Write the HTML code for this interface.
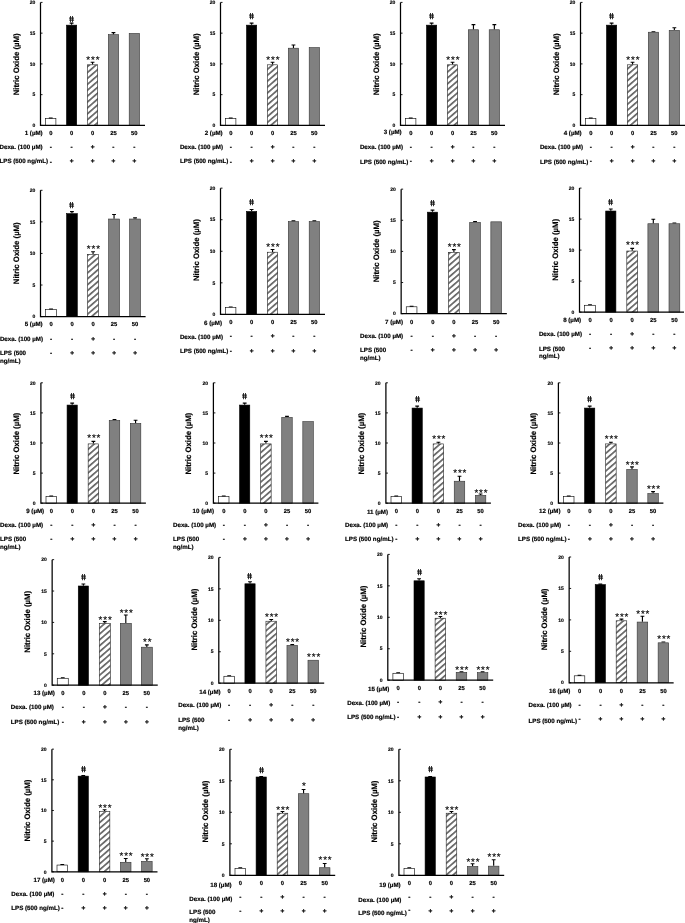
<!DOCTYPE html>
<html><head><meta charset="utf-8"><title>Nitric Oxide</title>
<style>html,body{margin:0;padding:0;background:#fff}svg{display:block;text-rendering:geometricPrecision}.t{stroke:#000;stroke-width:.18px}.k{stroke:#000;stroke-width:.15px}.h{stroke:#000;stroke-width:.3px}.s{stroke:#000;stroke-width:.15px}.m{stroke:#000;stroke-width:.28px}</style></head>
<body>
<svg width="685" height="923" viewBox="0 0 685 923" font-family="Liberation Sans, sans-serif" font-weight="bold" fill="#000">
<defs><pattern id="h" width="4.45" height="4.45" patternUnits="userSpaceOnUse" patternTransform="rotate(-41)"><rect width="4.45" height="4.45" fill="#fff"/><rect y="0" width="4.45" height="1.7" fill="#666"/></pattern></defs>
<g id="p1">
<path d="M50.75 118.33V118.02M48.85 118.17H52.65" stroke="#000" stroke-width="1.15" fill="none"/>
<rect x="45.6" y="118.63" width="10.3" height="6.77" fill="#fff" stroke="#000" stroke-width="0.6"/>
<path d="M71.6 24.85V23M69.7 23.15H73.5" stroke="#000" stroke-width="1.15" fill="none"/>
<rect x="66.5" y="25.15" width="10.2" height="100.25" fill="#000" stroke="#000" stroke-width="0.6"/>
<text x="0" y="0" font-size="8.7" font-weight="normal" text-anchor="middle" class="h" transform="translate(72.05 21.85) skewX(11)">#</text>
<path d="M92.55 64.52V62.05M90.65 62.2H94.45" stroke="#000" stroke-width="1.15" fill="none"/>
<rect x="87.4" y="64.81" width="10.3" height="60.59" fill="url(#h)" stroke="#222" stroke-width="0.6"/>
<text x="93.37" y="62.96" font-size="9.8" text-anchor="middle" letter-spacing="0.85" font-weight="normal" class="s">***</text>
<path d="M113.45 34.38V32.53M111.55 32.68H115.35" stroke="#000" stroke-width="1.15" fill="none"/>
<rect x="108.3" y="34.68" width="10.3" height="90.72" fill="#808080" stroke="#333" stroke-width="0.6"/>
<rect x="129.2" y="33.45" width="10.3" height="91.95" fill="#808080" stroke="#333" stroke-width="0.6"/>
<path d="M40.5 2.4V125.4H145" stroke="#000" stroke-width="1.25" fill="none"/>
<path d="M40.5 125.4h2" stroke="#000" stroke-width="0.9"/>
<text x="35.2" y="127.1" font-size="5.0" text-anchor="end" class="k">0</text>
<path d="M40.5 94.65h2" stroke="#000" stroke-width="0.9"/>
<text x="35.2" y="96.35" font-size="5.0" text-anchor="end" class="k">5</text>
<path d="M40.5 63.9h2" stroke="#000" stroke-width="0.9"/>
<text x="35.2" y="65.6" font-size="5.0" text-anchor="end" class="k">10</text>
<path d="M40.5 33.15h2" stroke="#000" stroke-width="0.9"/>
<text x="35.2" y="34.85" font-size="5.0" text-anchor="end" class="k">15</text>
<path d="M40.5 2.4h2" stroke="#000" stroke-width="0.9"/>
<text x="35.2" y="4.1" font-size="5.0" text-anchor="end" class="k">20</text>
<text transform="translate(18.5 64.35) rotate(-90)" font-size="7.9" text-anchor="middle" textLength="61.8" lengthAdjust="spacingAndGlyphs" class="t">Nitric Oxide (µM)</text>
<text x="42.7" y="135.3" font-size="6.2" text-anchor="end" class="t">1 (µM)</text>
<text x="-0.5" y="149.15" font-size="6.2" class="t">Dexa. (100 µM)</text>
<text x="-0.5" y="162.95" font-size="6.2" class="t">LPS (500 ng/mL)</text>
<text x="50.75" y="135.2" font-size="5.8" text-anchor="middle" class="t">0</text>
<text x="71.65" y="135.2" font-size="5.8" text-anchor="middle" class="t">0</text>
<text x="92.55" y="135.2" font-size="5.8" text-anchor="middle" class="t">0</text>
<text x="113.45" y="135.2" font-size="5.8" text-anchor="middle" class="t">25</text>
<text x="134.35" y="135.2" font-size="5.8" text-anchor="middle" class="t">50</text>
<text x="50.75" y="148.9" font-size="6.5" text-anchor="middle" class="t">-</text>
<text x="71.65" y="148.9" font-size="6.5" text-anchor="middle" class="t">-</text>
<text x="92.55" y="148.9" font-size="6.5" text-anchor="middle" class="m">+</text>
<text x="113.45" y="148.9" font-size="6.5" text-anchor="middle" class="t">-</text>
<text x="134.35" y="148.9" font-size="6.5" text-anchor="middle" class="t">-</text>
<text x="50.75" y="163.7" font-size="6.5" text-anchor="middle" class="t">-</text>
<text x="71.65" y="162.7" font-size="6.5" text-anchor="middle" class="m">+</text>
<text x="92.55" y="162.7" font-size="6.5" text-anchor="middle" class="m">+</text>
<text x="113.45" y="162.7" font-size="6.5" text-anchor="middle" class="m">+</text>
<text x="134.35" y="162.7" font-size="6.5" text-anchor="middle" class="m">+</text>
</g>
<g id="p2">
<path d="M230.75 118.33V118.02M228.85 118.17H232.65" stroke="#000" stroke-width="1.15" fill="none"/>
<rect x="225.6" y="118.63" width="10.3" height="6.77" fill="#fff" stroke="#000" stroke-width="0.6"/>
<path d="M251.6 24.85V23M249.7 23.15H253.5" stroke="#000" stroke-width="1.15" fill="none"/>
<rect x="246.5" y="25.15" width="10.2" height="100.25" fill="#000" stroke="#000" stroke-width="0.6"/>
<text x="0" y="0" font-size="8.7" font-weight="normal" text-anchor="middle" class="h" transform="translate(252.05 19.45) skewX(11)">#</text>
<path d="M272.55 64.52V62.05M270.65 62.2H274.45" stroke="#000" stroke-width="1.15" fill="none"/>
<rect x="267.4" y="64.81" width="10.3" height="60.59" fill="url(#h)" stroke="#222" stroke-width="0.6"/>
<text x="273.37" y="62.96" font-size="9.8" text-anchor="middle" letter-spacing="0.85" font-weight="normal" class="s">***</text>
<path d="M293.45 47.91V44.83M291.55 44.98H295.35" stroke="#000" stroke-width="1.15" fill="none"/>
<rect x="288.3" y="48.21" width="10.3" height="77.19" fill="#808080" stroke="#333" stroke-width="0.6"/>
<rect x="309.2" y="47.59" width="10.3" height="77.81" fill="#808080" stroke="#333" stroke-width="0.6"/>
<path d="M220.5 2.4V125.4H325" stroke="#000" stroke-width="1.25" fill="none"/>
<path d="M220.5 125.4h2" stroke="#000" stroke-width="0.9"/>
<text x="215.2" y="127.1" font-size="5.0" text-anchor="end" class="k">0</text>
<path d="M220.5 94.65h2" stroke="#000" stroke-width="0.9"/>
<text x="215.2" y="96.35" font-size="5.0" text-anchor="end" class="k">5</text>
<path d="M220.5 63.9h2" stroke="#000" stroke-width="0.9"/>
<text x="215.2" y="65.6" font-size="5.0" text-anchor="end" class="k">10</text>
<path d="M220.5 33.15h2" stroke="#000" stroke-width="0.9"/>
<text x="215.2" y="34.85" font-size="5.0" text-anchor="end" class="k">15</text>
<path d="M220.5 2.4h2" stroke="#000" stroke-width="0.9"/>
<text x="215.2" y="4.1" font-size="5.0" text-anchor="end" class="k">20</text>
<text transform="translate(198.5 64.35) rotate(-90)" font-size="7.9" text-anchor="middle" textLength="61.8" lengthAdjust="spacingAndGlyphs" class="t">Nitric Oxide (µM)</text>
<text x="222.7" y="135.3" font-size="6.2" text-anchor="end" class="t">2 (µM)</text>
<text x="179.9" y="149.15" font-size="6.2" class="t">Dexa. (100 µM)</text>
<text x="179.9" y="162.95" font-size="6.2" class="t">LPS (500 ng/mL)</text>
<text x="230.75" y="135.2" font-size="5.8" text-anchor="middle" class="t">0</text>
<text x="251.65" y="135.2" font-size="5.8" text-anchor="middle" class="t">0</text>
<text x="272.55" y="135.2" font-size="5.8" text-anchor="middle" class="t">0</text>
<text x="293.45" y="135.2" font-size="5.8" text-anchor="middle" class="t">25</text>
<text x="314.35" y="135.2" font-size="5.8" text-anchor="middle" class="t">50</text>
<text x="230.75" y="148.9" font-size="6.5" text-anchor="middle" class="t">-</text>
<text x="251.65" y="148.9" font-size="6.5" text-anchor="middle" class="t">-</text>
<text x="272.55" y="148.9" font-size="6.5" text-anchor="middle" class="m">+</text>
<text x="293.45" y="148.9" font-size="6.5" text-anchor="middle" class="t">-</text>
<text x="314.35" y="148.9" font-size="6.5" text-anchor="middle" class="t">-</text>
<text x="230.75" y="163.7" font-size="6.5" text-anchor="middle" class="t">-</text>
<text x="251.65" y="162.7" font-size="6.5" text-anchor="middle" class="m">+</text>
<text x="272.55" y="162.7" font-size="6.5" text-anchor="middle" class="m">+</text>
<text x="293.45" y="162.7" font-size="6.5" text-anchor="middle" class="m">+</text>
<text x="314.35" y="162.7" font-size="6.5" text-anchor="middle" class="m">+</text>
</g>
<g id="p3">
<path d="M410.75 118.33V118.02M408.85 118.17H412.65" stroke="#000" stroke-width="1.15" fill="none"/>
<rect x="405.6" y="118.63" width="10.3" height="6.77" fill="#fff" stroke="#000" stroke-width="0.6"/>
<path d="M431.6 24.85V23M429.7 23.15H433.5" stroke="#000" stroke-width="1.15" fill="none"/>
<rect x="426.5" y="25.15" width="10.2" height="100.25" fill="#000" stroke="#000" stroke-width="0.6"/>
<text x="0" y="0" font-size="8.7" font-weight="normal" text-anchor="middle" class="h" transform="translate(432.05 19.45) skewX(11)">#</text>
<path d="M452.55 64.52V62.05M450.65 62.2H454.45" stroke="#000" stroke-width="1.15" fill="none"/>
<rect x="447.4" y="64.81" width="10.3" height="60.59" fill="url(#h)" stroke="#222" stroke-width="0.6"/>
<text x="453.37" y="62.96" font-size="9.8" text-anchor="middle" letter-spacing="0.85" font-weight="normal" class="s">***</text>
<path d="M473.45 29.46V24.54M471.55 24.69H475.35" stroke="#000" stroke-width="1.15" fill="none"/>
<rect x="468.3" y="29.76" width="10.3" height="95.64" fill="#808080" stroke="#333" stroke-width="0.6"/>
<path d="M494.35 29.46V24.54M492.45 24.69H496.25" stroke="#000" stroke-width="1.15" fill="none"/>
<rect x="489.2" y="29.76" width="10.3" height="95.64" fill="#808080" stroke="#333" stroke-width="0.6"/>
<path d="M400.5 2.4V125.4H505" stroke="#000" stroke-width="1.25" fill="none"/>
<path d="M400.5 125.4h2" stroke="#000" stroke-width="0.9"/>
<text x="395.2" y="127.1" font-size="5.0" text-anchor="end" class="k">0</text>
<path d="M400.5 94.65h2" stroke="#000" stroke-width="0.9"/>
<text x="395.2" y="96.35" font-size="5.0" text-anchor="end" class="k">5</text>
<path d="M400.5 63.9h2" stroke="#000" stroke-width="0.9"/>
<text x="395.2" y="65.6" font-size="5.0" text-anchor="end" class="k">10</text>
<path d="M400.5 33.15h2" stroke="#000" stroke-width="0.9"/>
<text x="395.2" y="34.85" font-size="5.0" text-anchor="end" class="k">15</text>
<path d="M400.5 2.4h2" stroke="#000" stroke-width="0.9"/>
<text x="395.2" y="4.1" font-size="5.0" text-anchor="end" class="k">20</text>
<text transform="translate(378.5 64.35) rotate(-90)" font-size="7.9" text-anchor="middle" textLength="61.8" lengthAdjust="spacingAndGlyphs" class="t">Nitric Oxide (µM)</text>
<text x="401.7" y="134.3" font-size="6.2" text-anchor="end" class="t">3 (µM)</text>
<text x="359.9" y="149.15" font-size="6.2" class="t">Dexa. (100 µM)</text>
<text x="359.9" y="163.95" font-size="6.2" class="t">LPS (500 ng/mL)</text>
<text x="410.75" y="135.2" font-size="5.8" text-anchor="middle" class="t">0</text>
<text x="431.65" y="135.2" font-size="5.8" text-anchor="middle" class="t">0</text>
<text x="452.55" y="135.2" font-size="5.8" text-anchor="middle" class="t">0</text>
<text x="473.45" y="135.2" font-size="5.8" text-anchor="middle" class="t">25</text>
<text x="494.35" y="135.2" font-size="5.8" text-anchor="middle" class="t">50</text>
<text x="410.75" y="148.9" font-size="6.5" text-anchor="middle" class="t">-</text>
<text x="431.65" y="148.9" font-size="6.5" text-anchor="middle" class="t">-</text>
<text x="452.55" y="148.9" font-size="6.5" text-anchor="middle" class="m">+</text>
<text x="473.45" y="148.9" font-size="6.5" text-anchor="middle" class="t">-</text>
<text x="494.35" y="148.9" font-size="6.5" text-anchor="middle" class="t">-</text>
<text x="410.75" y="162.7" font-size="6.5" text-anchor="middle" class="t">-</text>
<text x="431.65" y="162.7" font-size="6.5" text-anchor="middle" class="m">+</text>
<text x="452.55" y="162.7" font-size="6.5" text-anchor="middle" class="m">+</text>
<text x="473.45" y="162.7" font-size="6.5" text-anchor="middle" class="m">+</text>
<text x="494.35" y="162.7" font-size="6.5" text-anchor="middle" class="m">+</text>
</g>
<g id="p4">
<path d="M590.75 118.33V118.02M588.85 118.17H592.65" stroke="#000" stroke-width="1.15" fill="none"/>
<rect x="585.6" y="118.63" width="10.3" height="6.77" fill="#fff" stroke="#000" stroke-width="0.6"/>
<path d="M611.6 24.85V23M609.7 23.15H613.5" stroke="#000" stroke-width="1.15" fill="none"/>
<rect x="606.5" y="25.15" width="10.2" height="100.25" fill="#000" stroke="#000" stroke-width="0.6"/>
<text x="0" y="0" font-size="8.7" font-weight="normal" text-anchor="middle" class="h" transform="translate(612.05 19.45) skewX(11)">#</text>
<path d="M632.55 64.52V62.05M630.65 62.2H634.45" stroke="#000" stroke-width="1.15" fill="none"/>
<rect x="627.4" y="64.81" width="10.3" height="60.59" fill="url(#h)" stroke="#222" stroke-width="0.6"/>
<text x="633.37" y="62.96" font-size="9.8" text-anchor="middle" letter-spacing="0.85" font-weight="normal" class="s">***</text>
<path d="M653.45 31.92V31.61M651.55 31.76H655.35" stroke="#000" stroke-width="1.15" fill="none"/>
<rect x="648.3" y="32.22" width="10.3" height="93.18" fill="#808080" stroke="#333" stroke-width="0.6"/>
<path d="M674.35 30.08V27.62M672.45 27.77H676.25" stroke="#000" stroke-width="1.15" fill="none"/>
<rect x="669.2" y="30.38" width="10.3" height="95.03" fill="#808080" stroke="#333" stroke-width="0.6"/>
<path d="M580.5 2.4V125.4H685" stroke="#000" stroke-width="1.25" fill="none"/>
<path d="M580.5 125.4h2" stroke="#000" stroke-width="0.9"/>
<text x="575.2" y="127.1" font-size="5.0" text-anchor="end" class="k">0</text>
<path d="M580.5 94.65h2" stroke="#000" stroke-width="0.9"/>
<text x="575.2" y="96.35" font-size="5.0" text-anchor="end" class="k">5</text>
<path d="M580.5 63.9h2" stroke="#000" stroke-width="0.9"/>
<text x="575.2" y="65.6" font-size="5.0" text-anchor="end" class="k">10</text>
<path d="M580.5 33.15h2" stroke="#000" stroke-width="0.9"/>
<text x="575.2" y="34.85" font-size="5.0" text-anchor="end" class="k">15</text>
<path d="M580.5 2.4h2" stroke="#000" stroke-width="0.9"/>
<text x="575.2" y="4.1" font-size="5.0" text-anchor="end" class="k">20</text>
<text transform="translate(558.5 64.35) rotate(-90)" font-size="7.9" text-anchor="middle" textLength="61.8" lengthAdjust="spacingAndGlyphs" class="t">Nitric Oxide (µM)</text>
<text x="581.7" y="135.3" font-size="6.2" text-anchor="end" class="t">4 (µM)</text>
<text x="539.9" y="149.15" font-size="6.2" class="t">Dexa. (100 µM)</text>
<text x="539.9" y="163.95" font-size="6.2" class="t">LPS (500 ng/mL)</text>
<text x="590.75" y="135.2" font-size="5.8" text-anchor="middle" class="t">0</text>
<text x="611.65" y="135.2" font-size="5.8" text-anchor="middle" class="t">0</text>
<text x="632.55" y="135.2" font-size="5.8" text-anchor="middle" class="t">0</text>
<text x="653.45" y="135.2" font-size="5.8" text-anchor="middle" class="t">25</text>
<text x="674.35" y="135.2" font-size="5.8" text-anchor="middle" class="t">50</text>
<text x="590.75" y="148.9" font-size="6.5" text-anchor="middle" class="t">-</text>
<text x="611.65" y="148.9" font-size="6.5" text-anchor="middle" class="t">-</text>
<text x="632.55" y="148.9" font-size="6.5" text-anchor="middle" class="m">+</text>
<text x="653.45" y="148.9" font-size="6.5" text-anchor="middle" class="t">-</text>
<text x="674.35" y="148.9" font-size="6.5" text-anchor="middle" class="t">-</text>
<text x="590.75" y="162.7" font-size="6.5" text-anchor="middle" class="t">-</text>
<text x="611.65" y="162.7" font-size="6.5" text-anchor="middle" class="m">+</text>
<text x="632.55" y="162.7" font-size="6.5" text-anchor="middle" class="m">+</text>
<text x="653.45" y="162.7" font-size="6.5" text-anchor="middle" class="m">+</text>
<text x="674.35" y="162.7" font-size="6.5" text-anchor="middle" class="m">+</text>
</g>
<g id="p5">
<path d="M51.05 309.34V309.02M49.15 309.17H52.95" stroke="#000" stroke-width="1.15" fill="none"/>
<rect x="45.6" y="309.64" width="10.9" height="6.96" fill="#fff" stroke="#000" stroke-width="0.6"/>
<path d="M71.95 213.35V211.46M70.05 211.61H73.85" stroke="#000" stroke-width="1.15" fill="none"/>
<rect x="66.6" y="213.65" width="10.7" height="102.95" fill="#000" stroke="#000" stroke-width="0.6"/>
<text x="0" y="0" font-size="8.7" font-weight="normal" text-anchor="middle" class="h" transform="translate(72.05 207.91) skewX(11)">#</text>
<path d="M93.05 254.08V251.56M91.15 251.71H94.95" stroke="#000" stroke-width="1.15" fill="none"/>
<rect x="87.6" y="254.38" width="10.9" height="62.22" fill="url(#h)" stroke="#222" stroke-width="0.6"/>
<text x="93.87" y="251.76" font-size="9.8" text-anchor="middle" letter-spacing="0.85" font-weight="normal" class="s">***</text>
<path d="M114.05 218.72V214.3M112.15 214.45H115.95" stroke="#000" stroke-width="1.15" fill="none"/>
<rect x="108.6" y="219.02" width="10.9" height="97.58" fill="#808080" stroke="#333" stroke-width="0.6"/>
<path d="M135.05 218.72V217.77M133.15 217.92H136.95" stroke="#000" stroke-width="1.15" fill="none"/>
<rect x="129.6" y="219.02" width="10.9" height="97.58" fill="#808080" stroke="#333" stroke-width="0.6"/>
<path d="M40.5 190.3V316.6H145.6" stroke="#000" stroke-width="1.25" fill="none"/>
<path d="M40.5 316.6h2" stroke="#000" stroke-width="0.9"/>
<text x="35.2" y="318.3" font-size="5.0" text-anchor="end" class="k">0</text>
<path d="M40.5 285.03h2" stroke="#000" stroke-width="0.9"/>
<text x="35.2" y="286.73" font-size="5.0" text-anchor="end" class="k">5</text>
<path d="M40.5 253.45h2" stroke="#000" stroke-width="0.9"/>
<text x="35.2" y="255.15" font-size="5.0" text-anchor="end" class="k">10</text>
<path d="M40.5 221.88h2" stroke="#000" stroke-width="0.9"/>
<text x="35.2" y="223.57" font-size="5.0" text-anchor="end" class="k">15</text>
<path d="M40.5 190.3h2" stroke="#000" stroke-width="0.9"/>
<text x="35.2" y="192" font-size="5.0" text-anchor="end" class="k">20</text>
<text transform="translate(18.5 253.25) rotate(-90)" font-size="7.9" text-anchor="middle" textLength="61.8" lengthAdjust="spacingAndGlyphs" class="t">Nitric Oxide (µM)</text>
<text x="42.7" y="326.45" font-size="6.2" text-anchor="end" class="t">5 (µM)</text>
<text x="-0.1" y="341.1" font-size="6.2" class="t">Dexa. (100 µM)</text>
<text x="-0.1" y="355.25" font-size="6.2" class="t">LPS (500</text>
<text x="-0.1" y="363.05" font-size="6.2" class="t">ng/mL)</text>
<text x="51.05" y="326.35" font-size="5.8" text-anchor="middle" class="t">0</text>
<text x="72.05" y="326.35" font-size="5.8" text-anchor="middle" class="t">0</text>
<text x="93.05" y="326.35" font-size="5.8" text-anchor="middle" class="t">0</text>
<text x="114.05" y="326.35" font-size="5.8" text-anchor="middle" class="t">25</text>
<text x="135.05" y="326.35" font-size="5.8" text-anchor="middle" class="t">50</text>
<text x="51.05" y="340.85" font-size="6.5" text-anchor="middle" class="t">-</text>
<text x="72.05" y="340.85" font-size="6.5" text-anchor="middle" class="t">-</text>
<text x="93.05" y="340.85" font-size="6.5" text-anchor="middle" class="m">+</text>
<text x="114.05" y="340.85" font-size="6.5" text-anchor="middle" class="t">-</text>
<text x="135.05" y="340.85" font-size="6.5" text-anchor="middle" class="t">-</text>
<text x="51.05" y="355" font-size="6.5" text-anchor="middle" class="t">-</text>
<text x="72.05" y="355" font-size="6.5" text-anchor="middle" class="m">+</text>
<text x="93.05" y="355" font-size="6.5" text-anchor="middle" class="m">+</text>
<text x="114.05" y="355" font-size="6.5" text-anchor="middle" class="m">+</text>
<text x="135.05" y="355" font-size="6.5" text-anchor="middle" class="m">+</text>
</g>
<g id="p6">
<path d="M230.75 307.14V306.82M228.85 306.97H232.65" stroke="#000" stroke-width="1.15" fill="none"/>
<rect x="225.6" y="307.44" width="10.3" height="6.96" fill="#fff" stroke="#000" stroke-width="0.6"/>
<path d="M251.6 211.19V209.3M249.7 209.45H253.5" stroke="#000" stroke-width="1.15" fill="none"/>
<rect x="246.5" y="211.49" width="10.2" height="102.91" fill="#000" stroke="#000" stroke-width="0.6"/>
<text x="0" y="0" font-size="8.7" font-weight="normal" text-anchor="middle" class="h" transform="translate(252.05 204.75) skewX(11)">#</text>
<path d="M272.55 251.91V249.38M270.65 249.53H274.45" stroke="#000" stroke-width="1.15" fill="none"/>
<rect x="267.4" y="252.21" width="10.3" height="62.19" fill="url(#h)" stroke="#222" stroke-width="0.6"/>
<text x="273.37" y="249.58" font-size="9.8" text-anchor="middle" letter-spacing="0.85" font-weight="normal" class="s">***</text>
<path d="M293.45 221.29V220.66M291.55 220.81H295.35" stroke="#000" stroke-width="1.15" fill="none"/>
<rect x="288.3" y="221.59" width="10.3" height="92.81" fill="#808080" stroke="#333" stroke-width="0.6"/>
<path d="M314.35 221.29V220.66M312.45 220.81H316.25" stroke="#000" stroke-width="1.15" fill="none"/>
<rect x="309.2" y="221.59" width="10.3" height="92.81" fill="#808080" stroke="#333" stroke-width="0.6"/>
<path d="M220.5 188.15V314.4H325" stroke="#000" stroke-width="1.25" fill="none"/>
<path d="M220.5 314.4h2" stroke="#000" stroke-width="0.9"/>
<text x="215.2" y="316.1" font-size="5.0" text-anchor="end" class="k">0</text>
<path d="M220.5 282.84h2" stroke="#000" stroke-width="0.9"/>
<text x="215.2" y="284.54" font-size="5.0" text-anchor="end" class="k">5</text>
<path d="M220.5 251.27h2" stroke="#000" stroke-width="0.9"/>
<text x="215.2" y="252.97" font-size="5.0" text-anchor="end" class="k">10</text>
<path d="M220.5 219.71h2" stroke="#000" stroke-width="0.9"/>
<text x="215.2" y="221.41" font-size="5.0" text-anchor="end" class="k">15</text>
<path d="M220.5 188.15h2" stroke="#000" stroke-width="0.9"/>
<text x="215.2" y="189.85" font-size="5.0" text-anchor="end" class="k">20</text>
<text transform="translate(198.5 250.17) rotate(-90)" font-size="7.9" text-anchor="middle" textLength="61.8" lengthAdjust="spacingAndGlyphs" class="t">Nitric Oxide (µM)</text>
<text x="222" y="325.15" font-size="6.2" text-anchor="end" class="t">6 (µM)</text>
<text x="179.9" y="338.65" font-size="6.2" class="t">Dexa. (100 µM)</text>
<text x="179.9" y="352.85" font-size="6.2" class="t">LPS (500 ng/mL)</text>
<text x="230.75" y="323.85" font-size="5.8" text-anchor="middle" class="t">0</text>
<text x="251.65" y="323.85" font-size="5.8" text-anchor="middle" class="t">0</text>
<text x="272.55" y="323.85" font-size="5.8" text-anchor="middle" class="t">0</text>
<text x="293.45" y="323.85" font-size="5.8" text-anchor="middle" class="t">25</text>
<text x="314.35" y="323.85" font-size="5.8" text-anchor="middle" class="t">50</text>
<text x="230.75" y="338.4" font-size="6.5" text-anchor="middle" class="t">-</text>
<text x="251.65" y="338.4" font-size="6.5" text-anchor="middle" class="t">-</text>
<text x="272.55" y="338.4" font-size="6.5" text-anchor="middle" class="m">+</text>
<text x="293.45" y="338.4" font-size="6.5" text-anchor="middle" class="t">-</text>
<text x="314.35" y="338.4" font-size="6.5" text-anchor="middle" class="t">-</text>
<text x="230.75" y="352.6" font-size="6.5" text-anchor="middle" class="t">-</text>
<text x="251.65" y="352.6" font-size="6.5" text-anchor="middle" class="m">+</text>
<text x="272.55" y="352.6" font-size="6.5" text-anchor="middle" class="m">+</text>
<text x="293.45" y="352.6" font-size="6.5" text-anchor="middle" class="m">+</text>
<text x="314.35" y="352.6" font-size="6.5" text-anchor="middle" class="m">+</text>
</g>
<g id="p7">
<path d="M411.6 306.49V306.18M409.7 306.33H413.5" stroke="#000" stroke-width="1.15" fill="none"/>
<rect x="406.25" y="306.79" width="10.7" height="6.86" fill="#fff" stroke="#000" stroke-width="0.6"/>
<path d="M432.5 211.87V210M430.6 210.15H434.4" stroke="#000" stroke-width="1.15" fill="none"/>
<rect x="427.4" y="212.17" width="10.2" height="101.48" fill="#000" stroke="#000" stroke-width="0.6"/>
<text x="0" y="0" font-size="8.7" font-weight="normal" text-anchor="middle" class="h" transform="translate(433.05 206.45) skewX(11)">#</text>
<path d="M453.9 252.02V249.53M452 249.68H455.8" stroke="#000" stroke-width="1.15" fill="none"/>
<rect x="448.55" y="252.32" width="10.7" height="61.33" fill="url(#h)" stroke="#222" stroke-width="0.6"/>
<text x="454.72" y="249.73" font-size="9.8" text-anchor="middle" letter-spacing="0.85" font-weight="normal" class="s">***</text>
<path d="M475.05 222.14V221.52M473.15 221.67H476.95" stroke="#000" stroke-width="1.15" fill="none"/>
<rect x="469.7" y="222.44" width="10.7" height="91.21" fill="#808080" stroke="#333" stroke-width="0.6"/>
<rect x="490.85" y="221.82" width="10.7" height="91.83" fill="#808080" stroke="#333" stroke-width="0.6"/>
<path d="M401.15 189.15V313.65H506.85" stroke="#000" stroke-width="1.25" fill="none"/>
<path d="M401.15 313.65h2" stroke="#000" stroke-width="0.9"/>
<text x="395.85" y="315.35" font-size="5.0" text-anchor="end" class="k">0</text>
<path d="M401.15 282.52h2" stroke="#000" stroke-width="0.9"/>
<text x="395.85" y="284.22" font-size="5.0" text-anchor="end" class="k">5</text>
<path d="M401.15 251.4h2" stroke="#000" stroke-width="0.9"/>
<text x="395.85" y="253.1" font-size="5.0" text-anchor="end" class="k">10</text>
<path d="M401.15 220.27h2" stroke="#000" stroke-width="0.9"/>
<text x="395.85" y="221.97" font-size="5.0" text-anchor="end" class="k">15</text>
<path d="M401.15 189.15h2" stroke="#000" stroke-width="0.9"/>
<text x="395.85" y="190.85" font-size="5.0" text-anchor="end" class="k">20</text>
<text transform="translate(379.15 251.4) rotate(-90)" font-size="7.9" text-anchor="middle" textLength="61.8" lengthAdjust="spacingAndGlyphs" class="t">Nitric Oxide (µM)</text>
<text x="403" y="323.8" font-size="6.2" text-anchor="end" class="t">7 (µM)</text>
<text x="360.05" y="338" font-size="6.2" class="t">Dexa. (100 µM)</text>
<text x="360.05" y="352.2" font-size="6.2" class="t">LPS (500</text>
<text x="360.05" y="360" font-size="6.2" class="t">ng/mL)</text>
<text x="411.6" y="323.7" font-size="5.8" text-anchor="middle" class="t">0</text>
<text x="432.75" y="323.7" font-size="5.8" text-anchor="middle" class="t">0</text>
<text x="453.9" y="323.7" font-size="5.8" text-anchor="middle" class="t">0</text>
<text x="475.05" y="323.7" font-size="5.8" text-anchor="middle" class="t">25</text>
<text x="496.2" y="323.7" font-size="5.8" text-anchor="middle" class="t">50</text>
<text x="411.6" y="337.75" font-size="6.5" text-anchor="middle" class="t">-</text>
<text x="432.75" y="337.75" font-size="6.5" text-anchor="middle" class="t">-</text>
<text x="453.9" y="337.75" font-size="6.5" text-anchor="middle" class="m">+</text>
<text x="475.05" y="337.75" font-size="6.5" text-anchor="middle" class="t">-</text>
<text x="496.2" y="337.75" font-size="6.5" text-anchor="middle" class="t">-</text>
<text x="411.6" y="351.95" font-size="6.5" text-anchor="middle" class="t">-</text>
<text x="432.75" y="351.95" font-size="6.5" text-anchor="middle" class="m">+</text>
<text x="453.9" y="351.95" font-size="6.5" text-anchor="middle" class="m">+</text>
<text x="475.05" y="351.95" font-size="6.5" text-anchor="middle" class="m">+</text>
<text x="496.2" y="351.95" font-size="6.5" text-anchor="middle" class="m">+</text>
</g>
<g id="p8">
<path d="M590 304.97V304.66M588.1 304.81H591.9" stroke="#000" stroke-width="1.15" fill="none"/>
<rect x="584.6" y="305.27" width="10.8" height="6.83" fill="#fff" stroke="#000" stroke-width="0.6"/>
<path d="M610.8 210.73V208.87M608.9 209.02H612.7" stroke="#000" stroke-width="1.15" fill="none"/>
<rect x="605.7" y="211.03" width="10.2" height="101.07" fill="#000" stroke="#000" stroke-width="0.6"/>
<text x="0" y="0" font-size="8.7" font-weight="normal" text-anchor="middle" class="h" transform="translate(611.05 205.32) skewX(11)">#</text>
<path d="M632.2 250.72V248.24M630.3 248.39H634.1" stroke="#000" stroke-width="1.15" fill="none"/>
<rect x="626.8" y="251.02" width="10.8" height="61.08" fill="url(#h)" stroke="#222" stroke-width="0.6"/>
<text x="633.02" y="248.44" font-size="9.8" text-anchor="middle" letter-spacing="0.85" font-weight="normal" class="s">***</text>
<path d="M653.3 223.44V219.1M651.4 219.25H655.2" stroke="#000" stroke-width="1.15" fill="none"/>
<rect x="647.9" y="223.74" width="10.8" height="88.36" fill="#808080" stroke="#333" stroke-width="0.6"/>
<path d="M674.4 223.44V222.82M672.5 222.97H676.3" stroke="#000" stroke-width="1.15" fill="none"/>
<rect x="669" y="223.74" width="10.8" height="88.36" fill="#808080" stroke="#333" stroke-width="0.6"/>
<path d="M579.5 188.1V312.1H684" stroke="#000" stroke-width="1.25" fill="none"/>
<path d="M579.5 312.1h2" stroke="#000" stroke-width="0.9"/>
<text x="574.2" y="313.8" font-size="5.0" text-anchor="end" class="k">0</text>
<path d="M579.5 281.1h2" stroke="#000" stroke-width="0.9"/>
<text x="574.2" y="282.8" font-size="5.0" text-anchor="end" class="k">5</text>
<path d="M579.5 250.1h2" stroke="#000" stroke-width="0.9"/>
<text x="574.2" y="251.8" font-size="5.0" text-anchor="end" class="k">10</text>
<path d="M579.5 219.1h2" stroke="#000" stroke-width="0.9"/>
<text x="574.2" y="220.8" font-size="5.0" text-anchor="end" class="k">15</text>
<path d="M579.5 188.1h2" stroke="#000" stroke-width="0.9"/>
<text x="574.2" y="189.8" font-size="5.0" text-anchor="end" class="k">20</text>
<text transform="translate(557.5 249.9) rotate(-90)" font-size="7.9" text-anchor="middle" textLength="61.8" lengthAdjust="spacingAndGlyphs" class="t">Nitric Oxide (µM)</text>
<text x="581.15" y="321.75" font-size="6.2" text-anchor="end" class="t">8 (µM)</text>
<text x="538.9" y="336.25" font-size="6.2" class="t">Dexa. (100 µM)</text>
<text x="538.9" y="350.65" font-size="6.2" class="t">LPS (500</text>
<text x="538.9" y="358.45" font-size="6.2" class="t">ng/mL)</text>
<text x="590" y="321.65" font-size="5.8" text-anchor="middle" class="t">0</text>
<text x="611.1" y="321.65" font-size="5.8" text-anchor="middle" class="t">0</text>
<text x="632.2" y="321.65" font-size="5.8" text-anchor="middle" class="t">0</text>
<text x="653.3" y="321.65" font-size="5.8" text-anchor="middle" class="t">25</text>
<text x="674.4" y="321.65" font-size="5.8" text-anchor="middle" class="t">50</text>
<text x="590" y="336" font-size="6.5" text-anchor="middle" class="t">-</text>
<text x="611.1" y="336" font-size="6.5" text-anchor="middle" class="t">-</text>
<text x="632.2" y="336" font-size="6.5" text-anchor="middle" class="m">+</text>
<text x="653.3" y="336" font-size="6.5" text-anchor="middle" class="t">-</text>
<text x="674.4" y="336" font-size="6.5" text-anchor="middle" class="t">-</text>
<text x="590" y="350.4" font-size="6.5" text-anchor="middle" class="t">-</text>
<text x="611.1" y="350.4" font-size="6.5" text-anchor="middle" class="m">+</text>
<text x="632.2" y="350.4" font-size="6.5" text-anchor="middle" class="m">+</text>
<text x="653.3" y="350.4" font-size="6.5" text-anchor="middle" class="m">+</text>
<text x="674.4" y="350.4" font-size="6.5" text-anchor="middle" class="m">+</text>
</g>
<g id="p9">
<path d="M51.25 496.28V495.98M49.35 496.13H53.15" stroke="#000" stroke-width="1.15" fill="none"/>
<rect x="46" y="496.58" width="10.5" height="6.62" fill="#fff" stroke="#000" stroke-width="0.6"/>
<path d="M72.18 404.77V402.97M70.28 403.12H74.08" stroke="#000" stroke-width="1.15" fill="none"/>
<rect x="67.08" y="405.07" width="10.2" height="98.13" fill="#000" stroke="#000" stroke-width="0.6"/>
<text x="0" y="0" font-size="8.7" font-weight="normal" text-anchor="middle" class="h" transform="translate(73.05 399.42) skewX(11)">#</text>
<path d="M93.41 443.6V441.19M91.51 441.34H95.31" stroke="#000" stroke-width="1.15" fill="none"/>
<rect x="88.16" y="443.9" width="10.5" height="59.3" fill="url(#h)" stroke="#222" stroke-width="0.6"/>
<text x="94.23" y="441.39" font-size="9.8" text-anchor="middle" letter-spacing="0.85" font-weight="normal" class="s">***</text>
<path d="M114.49 420.12V419.52M112.59 419.67H116.39" stroke="#000" stroke-width="1.15" fill="none"/>
<rect x="109.24" y="420.42" width="10.5" height="82.78" fill="#808080" stroke="#333" stroke-width="0.6"/>
<path d="M135.57 423.13V420.12M133.67 420.27H137.47" stroke="#000" stroke-width="1.15" fill="none"/>
<rect x="130.32" y="423.43" width="10.5" height="79.77" fill="#808080" stroke="#333" stroke-width="0.6"/>
<path d="M40.9 382.8V503.2H145.9" stroke="#000" stroke-width="1.25" fill="none"/>
<path d="M40.9 503.2h2" stroke="#000" stroke-width="0.9"/>
<text x="35.6" y="504.9" font-size="5.0" text-anchor="end" class="k">0</text>
<path d="M40.9 473.1h2" stroke="#000" stroke-width="0.9"/>
<text x="35.6" y="474.8" font-size="5.0" text-anchor="end" class="k">5</text>
<path d="M40.9 443h2" stroke="#000" stroke-width="0.9"/>
<text x="35.6" y="444.7" font-size="5.0" text-anchor="end" class="k">10</text>
<path d="M40.9 412.9h2" stroke="#000" stroke-width="0.9"/>
<text x="35.6" y="414.6" font-size="5.0" text-anchor="end" class="k">15</text>
<path d="M40.9 382.8h2" stroke="#000" stroke-width="0.9"/>
<text x="35.6" y="384.5" font-size="5.0" text-anchor="end" class="k">20</text>
<text transform="translate(18.9 443.7) rotate(-90)" font-size="7.9" text-anchor="middle" textLength="61.8" lengthAdjust="spacingAndGlyphs" class="t">Nitric Oxide (µM)</text>
<text x="44.2" y="513.15" font-size="6.2" text-anchor="end" class="t">9 (µM)</text>
<text x="0" y="527.35" font-size="6.2" class="t">Dexa. (100 µM)</text>
<text x="0" y="541.35" font-size="6.2" class="t">LPS (500</text>
<text x="0" y="549.15" font-size="6.2" class="t">ng/mL)</text>
<text x="51.25" y="513.05" font-size="5.8" text-anchor="middle" class="t">0</text>
<text x="72.33" y="513.05" font-size="5.8" text-anchor="middle" class="t">0</text>
<text x="93.41" y="513.05" font-size="5.8" text-anchor="middle" class="t">0</text>
<text x="114.49" y="513.05" font-size="5.8" text-anchor="middle" class="t">25</text>
<text x="135.57" y="513.05" font-size="5.8" text-anchor="middle" class="t">50</text>
<text x="51.25" y="527.1" font-size="6.5" text-anchor="middle" class="t">-</text>
<text x="72.33" y="527.1" font-size="6.5" text-anchor="middle" class="t">-</text>
<text x="93.41" y="527.1" font-size="6.5" text-anchor="middle" class="m">+</text>
<text x="114.49" y="527.1" font-size="6.5" text-anchor="middle" class="t">-</text>
<text x="135.57" y="527.1" font-size="6.5" text-anchor="middle" class="t">-</text>
<text x="51.25" y="541.1" font-size="6.5" text-anchor="middle" class="t">-</text>
<text x="72.33" y="541.1" font-size="6.5" text-anchor="middle" class="m">+</text>
<text x="93.41" y="541.1" font-size="6.5" text-anchor="middle" class="m">+</text>
<text x="114.49" y="541.1" font-size="6.5" text-anchor="middle" class="m">+</text>
<text x="135.57" y="541.1" font-size="6.5" text-anchor="middle" class="m">+</text>
</g>
<g id="p10">
<path d="M223.75 496.28V495.98M221.85 496.13H225.65" stroke="#000" stroke-width="1.15" fill="none"/>
<rect x="218.5" y="496.58" width="10.5" height="6.62" fill="#fff" stroke="#000" stroke-width="0.6"/>
<path d="M244.68 404.77V402.97M242.78 403.12H246.58" stroke="#000" stroke-width="1.15" fill="none"/>
<rect x="239.58" y="405.07" width="10.2" height="98.13" fill="#000" stroke="#000" stroke-width="0.6"/>
<text x="0" y="0" font-size="8.7" font-weight="normal" text-anchor="middle" class="h" transform="translate(245.05 399.42) skewX(11)">#</text>
<path d="M265.91 443.6V441.19M264.01 441.34H267.81" stroke="#000" stroke-width="1.15" fill="none"/>
<rect x="260.66" y="443.9" width="10.5" height="59.3" fill="url(#h)" stroke="#222" stroke-width="0.6"/>
<text x="266.73" y="441.39" font-size="9.8" text-anchor="middle" letter-spacing="0.85" font-weight="normal" class="s">***</text>
<path d="M286.99 417.11V416.21M285.09 416.36H288.89" stroke="#000" stroke-width="1.15" fill="none"/>
<rect x="281.74" y="417.41" width="10.5" height="85.79" fill="#808080" stroke="#333" stroke-width="0.6"/>
<rect x="302.82" y="421.63" width="10.5" height="81.57" fill="#808080" stroke="#333" stroke-width="0.6"/>
<path d="M213.4 382.8V503.2H318.4" stroke="#000" stroke-width="1.25" fill="none"/>
<path d="M213.4 503.2h2" stroke="#000" stroke-width="0.9"/>
<text x="208.1" y="504.9" font-size="5.0" text-anchor="end" class="k">0</text>
<path d="M213.4 473.1h2" stroke="#000" stroke-width="0.9"/>
<text x="208.1" y="474.8" font-size="5.0" text-anchor="end" class="k">5</text>
<path d="M213.4 443h2" stroke="#000" stroke-width="0.9"/>
<text x="208.1" y="444.7" font-size="5.0" text-anchor="end" class="k">10</text>
<path d="M213.4 412.9h2" stroke="#000" stroke-width="0.9"/>
<text x="208.1" y="414.6" font-size="5.0" text-anchor="end" class="k">15</text>
<path d="M213.4 382.8h2" stroke="#000" stroke-width="0.9"/>
<text x="208.1" y="384.5" font-size="5.0" text-anchor="end" class="k">20</text>
<text transform="translate(191.4 443.7) rotate(-90)" font-size="7.9" text-anchor="middle" textLength="61.8" lengthAdjust="spacingAndGlyphs" class="t">Nitric Oxide (µM)</text>
<text x="214" y="513.15" font-size="6.2" text-anchor="end" class="t">10 (µM)</text>
<text x="173" y="527.35" font-size="6.2" class="t">Dexa. (100 µM)</text>
<text x="173" y="541.35" font-size="6.2" class="t">LPS (500</text>
<text x="173" y="549.15" font-size="6.2" class="t">ng/mL)</text>
<text x="223.75" y="513.05" font-size="5.8" text-anchor="middle" class="t">0</text>
<text x="244.83" y="513.05" font-size="5.8" text-anchor="middle" class="t">0</text>
<text x="265.91" y="513.05" font-size="5.8" text-anchor="middle" class="t">0</text>
<text x="286.99" y="513.05" font-size="5.8" text-anchor="middle" class="t">25</text>
<text x="308.07" y="513.05" font-size="5.8" text-anchor="middle" class="t">50</text>
<text x="223.75" y="527.1" font-size="6.5" text-anchor="middle" class="t">-</text>
<text x="244.83" y="527.1" font-size="6.5" text-anchor="middle" class="t">-</text>
<text x="265.91" y="527.1" font-size="6.5" text-anchor="middle" class="m">+</text>
<text x="286.99" y="527.1" font-size="6.5" text-anchor="middle" class="t">-</text>
<text x="308.07" y="527.1" font-size="6.5" text-anchor="middle" class="t">-</text>
<text x="223.75" y="541.1" font-size="6.5" text-anchor="middle" class="t">-</text>
<text x="244.83" y="541.1" font-size="6.5" text-anchor="middle" class="m">+</text>
<text x="265.91" y="541.1" font-size="6.5" text-anchor="middle" class="m">+</text>
<text x="286.99" y="541.1" font-size="6.5" text-anchor="middle" class="m">+</text>
<text x="308.07" y="541.1" font-size="6.5" text-anchor="middle" class="m">+</text>
</g>
<g id="p11">
<path d="M396.25 496.28V495.98M394.35 496.13H398.15" stroke="#000" stroke-width="1.15" fill="none"/>
<rect x="391" y="496.58" width="10.5" height="6.62" fill="#fff" stroke="#000" stroke-width="0.6"/>
<path d="M417.18 407.78V405.98M415.28 406.13H419.08" stroke="#000" stroke-width="1.15" fill="none"/>
<rect x="412.08" y="408.08" width="10.2" height="95.12" fill="#000" stroke="#000" stroke-width="0.6"/>
<text x="0" y="0" font-size="8.7" font-weight="normal" text-anchor="middle" class="h" transform="translate(418.05 402.43) skewX(11)">#</text>
<path d="M438.41 443.6V442.1M436.51 442.25H440.31" stroke="#000" stroke-width="1.15" fill="none"/>
<rect x="433.16" y="443.9" width="10.5" height="59.3" fill="url(#h)" stroke="#222" stroke-width="0.6"/>
<text x="439.23" y="442.3" font-size="9.8" text-anchor="middle" letter-spacing="0.85" font-weight="normal" class="s">***</text>
<path d="M459.49 480.93V476.11M457.59 476.26H461.39" stroke="#000" stroke-width="1.15" fill="none"/>
<rect x="454.24" y="481.23" width="10.5" height="21.97" fill="#808080" stroke="#333" stroke-width="0.6"/>
<text x="460.31" y="476.31" font-size="9.8" text-anchor="middle" letter-spacing="0.85" font-weight="normal" class="s">***</text>
<path d="M480.57 495.07V493.87M478.67 494.02H482.47" stroke="#000" stroke-width="1.15" fill="none"/>
<rect x="475.32" y="495.37" width="10.5" height="7.83" fill="#808080" stroke="#333" stroke-width="0.6"/>
<text x="481.39" y="495.87" font-size="9.8" text-anchor="middle" letter-spacing="0.85" font-weight="normal" class="s">***</text>
<path d="M385.9 382.8V503.2H490.9" stroke="#000" stroke-width="1.25" fill="none"/>
<path d="M385.9 503.2h2" stroke="#000" stroke-width="0.9"/>
<text x="380.6" y="504.9" font-size="5.0" text-anchor="end" class="k">0</text>
<path d="M385.9 473.1h2" stroke="#000" stroke-width="0.9"/>
<text x="380.6" y="474.8" font-size="5.0" text-anchor="end" class="k">5</text>
<path d="M385.9 443h2" stroke="#000" stroke-width="0.9"/>
<text x="380.6" y="444.7" font-size="5.0" text-anchor="end" class="k">10</text>
<path d="M385.9 412.9h2" stroke="#000" stroke-width="0.9"/>
<text x="380.6" y="414.6" font-size="5.0" text-anchor="end" class="k">15</text>
<path d="M385.9 382.8h2" stroke="#000" stroke-width="0.9"/>
<text x="380.6" y="384.5" font-size="5.0" text-anchor="end" class="k">20</text>
<text transform="translate(363.9 443.7) rotate(-90)" font-size="7.9" text-anchor="middle" textLength="61.8" lengthAdjust="spacingAndGlyphs" class="t">Nitric Oxide (µM)</text>
<text x="388" y="514.05" font-size="6.2" text-anchor="end" class="t">11 (µM)</text>
<text x="345" y="527.35" font-size="6.2" class="t">Dexa. (100 µM)</text>
<text x="345" y="541.35" font-size="6.2" class="t">LPS (500 ng/mL)</text>
<text x="396.25" y="513.05" font-size="5.8" text-anchor="middle" class="t">0</text>
<text x="417.33" y="513.05" font-size="5.8" text-anchor="middle" class="t">0</text>
<text x="438.41" y="513.05" font-size="5.8" text-anchor="middle" class="t">0</text>
<text x="459.49" y="513.05" font-size="5.8" text-anchor="middle" class="t">25</text>
<text x="480.57" y="513.05" font-size="5.8" text-anchor="middle" class="t">50</text>
<text x="396.25" y="527.1" font-size="6.5" text-anchor="middle" class="t">-</text>
<text x="417.33" y="527.1" font-size="6.5" text-anchor="middle" class="t">-</text>
<text x="438.41" y="527.1" font-size="6.5" text-anchor="middle" class="m">+</text>
<text x="459.49" y="527.1" font-size="6.5" text-anchor="middle" class="t">-</text>
<text x="480.57" y="527.1" font-size="6.5" text-anchor="middle" class="t">-</text>
<text x="396.25" y="541.1" font-size="6.5" text-anchor="middle" class="t">-</text>
<text x="417.33" y="541.1" font-size="6.5" text-anchor="middle" class="m">+</text>
<text x="438.41" y="541.1" font-size="6.5" text-anchor="middle" class="m">+</text>
<text x="459.49" y="541.1" font-size="6.5" text-anchor="middle" class="m">+</text>
<text x="480.57" y="541.1" font-size="6.5" text-anchor="middle" class="m">+</text>
</g>
<g id="p12">
<path d="M568.75 496.28V495.98M566.85 496.13H570.65" stroke="#000" stroke-width="1.15" fill="none"/>
<rect x="563.5" y="496.58" width="10.5" height="6.62" fill="#fff" stroke="#000" stroke-width="0.6"/>
<path d="M589.68 407.78V405.98M587.78 406.13H591.58" stroke="#000" stroke-width="1.15" fill="none"/>
<rect x="584.58" y="408.08" width="10.2" height="95.12" fill="#000" stroke="#000" stroke-width="0.6"/>
<text x="0" y="0" font-size="8.7" font-weight="normal" text-anchor="middle" class="h" transform="translate(590.05 402.43) skewX(11)">#</text>
<path d="M610.91 443.6V442.1M609.01 442.25H612.81" stroke="#000" stroke-width="1.15" fill="none"/>
<rect x="605.66" y="443.9" width="10.5" height="59.3" fill="url(#h)" stroke="#222" stroke-width="0.6"/>
<text x="611.73" y="442.3" font-size="9.8" text-anchor="middle" letter-spacing="0.85" font-weight="normal" class="s">***</text>
<path d="M631.99 469.19V466.78M630.09 466.93H633.89" stroke="#000" stroke-width="1.15" fill="none"/>
<rect x="626.74" y="469.49" width="10.5" height="33.71" fill="#808080" stroke="#333" stroke-width="0.6"/>
<text x="632.81" y="467.98" font-size="9.8" text-anchor="middle" letter-spacing="0.85" font-weight="normal" class="s">***</text>
<path d="M653.07 493.27V491.46M651.17 491.61H654.97" stroke="#000" stroke-width="1.15" fill="none"/>
<rect x="647.82" y="493.57" width="10.5" height="9.63" fill="#808080" stroke="#333" stroke-width="0.6"/>
<text x="653.89" y="492.16" font-size="9.8" text-anchor="middle" letter-spacing="0.85" font-weight="normal" class="s">***</text>
<path d="M558.4 382.8V503.2H663.4" stroke="#000" stroke-width="1.25" fill="none"/>
<path d="M558.4 503.2h2" stroke="#000" stroke-width="0.9"/>
<text x="553.1" y="504.9" font-size="5.0" text-anchor="end" class="k">0</text>
<path d="M558.4 473.1h2" stroke="#000" stroke-width="0.9"/>
<text x="553.1" y="474.8" font-size="5.0" text-anchor="end" class="k">5</text>
<path d="M558.4 443h2" stroke="#000" stroke-width="0.9"/>
<text x="553.1" y="444.7" font-size="5.0" text-anchor="end" class="k">10</text>
<path d="M558.4 412.9h2" stroke="#000" stroke-width="0.9"/>
<text x="553.1" y="414.6" font-size="5.0" text-anchor="end" class="k">15</text>
<path d="M558.4 382.8h2" stroke="#000" stroke-width="0.9"/>
<text x="553.1" y="384.5" font-size="5.0" text-anchor="end" class="k">20</text>
<text transform="translate(536.4 443.7) rotate(-90)" font-size="7.9" text-anchor="middle" textLength="61.8" lengthAdjust="spacingAndGlyphs" class="t">Nitric Oxide (µM)</text>
<text x="560.5" y="513.15" font-size="6.2" text-anchor="end" class="t">12 (µM)</text>
<text x="518" y="527.35" font-size="6.2" class="t">Dexa. (100 µM)</text>
<text x="518" y="541.35" font-size="6.2" class="t">LPS (500 ng/mL)</text>
<text x="568.75" y="513.05" font-size="5.8" text-anchor="middle" class="t">0</text>
<text x="589.83" y="513.05" font-size="5.8" text-anchor="middle" class="t">0</text>
<text x="610.91" y="513.05" font-size="5.8" text-anchor="middle" class="t">0</text>
<text x="631.99" y="513.05" font-size="5.8" text-anchor="middle" class="t">25</text>
<text x="653.07" y="513.05" font-size="5.8" text-anchor="middle" class="t">50</text>
<text x="568.75" y="527.1" font-size="6.5" text-anchor="middle" class="t">-</text>
<text x="589.83" y="527.1" font-size="6.5" text-anchor="middle" class="t">-</text>
<text x="610.91" y="527.1" font-size="6.5" text-anchor="middle" class="m">+</text>
<text x="631.99" y="527.1" font-size="6.5" text-anchor="middle" class="t">-</text>
<text x="653.07" y="527.1" font-size="6.5" text-anchor="middle" class="t">-</text>
<text x="568.75" y="541.1" font-size="6.5" text-anchor="middle" class="t">-</text>
<text x="589.83" y="541.1" font-size="6.5" text-anchor="middle" class="m">+</text>
<text x="610.91" y="541.1" font-size="6.5" text-anchor="middle" class="m">+</text>
<text x="631.99" y="541.1" font-size="6.5" text-anchor="middle" class="m">+</text>
<text x="653.07" y="541.1" font-size="6.5" text-anchor="middle" class="m">+</text>
</g>
<g id="p13">
<path d="M62.75 677.98V677.67M60.85 677.82H64.65" stroke="#000" stroke-width="1.15" fill="none"/>
<rect x="57.25" y="678.28" width="11" height="6.92" fill="#fff" stroke="#000" stroke-width="0.6"/>
<path d="M83.37 585.7V583.82M81.47 583.97H85.27" stroke="#000" stroke-width="1.15" fill="none"/>
<rect x="78.27" y="586" width="10.2" height="99.2" fill="#000" stroke="#000" stroke-width="0.6"/>
<text x="0" y="0" font-size="8.7" font-weight="normal" text-anchor="middle" class="h" transform="translate(84.05 580.27) skewX(11)">#</text>
<path d="M104.79 623.05V621.48M102.89 621.63H106.69" stroke="#000" stroke-width="1.15" fill="none"/>
<rect x="99.29" y="623.35" width="11" height="61.85" fill="url(#h)" stroke="#222" stroke-width="0.6"/>
<text x="105.61" y="622.68" font-size="9.8" text-anchor="middle" letter-spacing="0.85" font-weight="normal" class="s">***</text>
<path d="M125.81 623.05V614.89M123.91 615.04H127.71" stroke="#000" stroke-width="1.15" fill="none"/>
<rect x="120.31" y="623.35" width="11" height="61.85" fill="#808080" stroke="#333" stroke-width="0.6"/>
<text x="126.63" y="616.09" font-size="9.8" text-anchor="middle" letter-spacing="0.85" font-weight="normal" class="s">***</text>
<path d="M146.83 646.91V644.71M144.93 644.86H148.73" stroke="#000" stroke-width="1.15" fill="none"/>
<rect x="141.33" y="647.21" width="11" height="37.99" fill="#808080" stroke="#333" stroke-width="0.6"/>
<text x="147.65" y="645.21" font-size="9.8" text-anchor="middle" letter-spacing="0.85" font-weight="normal" class="s">**</text>
<path d="M52.15 559.65V685.2H157.75" stroke="#000" stroke-width="1.25" fill="none"/>
<path d="M52.15 685.2h2" stroke="#000" stroke-width="0.9"/>
<text x="46.85" y="686.9" font-size="5.0" text-anchor="end" class="k">0</text>
<path d="M52.15 653.81h2" stroke="#000" stroke-width="0.9"/>
<text x="46.85" y="655.51" font-size="5.0" text-anchor="end" class="k">5</text>
<path d="M52.15 622.42h2" stroke="#000" stroke-width="0.9"/>
<text x="46.85" y="624.12" font-size="5.0" text-anchor="end" class="k">10</text>
<path d="M52.15 591.04h2" stroke="#000" stroke-width="0.9"/>
<text x="46.85" y="592.74" font-size="5.0" text-anchor="end" class="k">15</text>
<path d="M52.15 559.65h2" stroke="#000" stroke-width="0.9"/>
<text x="46.85" y="561.35" font-size="5.0" text-anchor="end" class="k">20</text>
<text transform="translate(30.15 621.82) rotate(-90)" font-size="7.9" text-anchor="middle" textLength="61.8" lengthAdjust="spacingAndGlyphs" class="t">Nitric Oxide (µM)</text>
<text x="54.9" y="695.35" font-size="6.2" text-anchor="end" class="t">13 (µM)</text>
<text x="10.75" y="709.35" font-size="6.2" class="t">Dexa. (100 µM)</text>
<text x="10.75" y="724.25" font-size="6.2" class="t">LPS (500 ng/mL)</text>
<text x="62.75" y="695.25" font-size="5.8" text-anchor="middle" class="t">0</text>
<text x="83.77" y="695.25" font-size="5.8" text-anchor="middle" class="t">0</text>
<text x="104.79" y="695.25" font-size="5.8" text-anchor="middle" class="t">0</text>
<text x="125.81" y="695.25" font-size="5.8" text-anchor="middle" class="t">25</text>
<text x="146.83" y="695.25" font-size="5.8" text-anchor="middle" class="t">50</text>
<text x="62.75" y="709.1" font-size="6.5" text-anchor="middle" class="t">-</text>
<text x="83.77" y="709.1" font-size="6.5" text-anchor="middle" class="t">-</text>
<text x="104.79" y="709.1" font-size="6.5" text-anchor="middle" class="m">+</text>
<text x="125.81" y="709.1" font-size="6.5" text-anchor="middle" class="t">-</text>
<text x="146.83" y="709.1" font-size="6.5" text-anchor="middle" class="t">-</text>
<text x="62.75" y="723.6" font-size="6.5" text-anchor="middle" class="t">-</text>
<text x="83.77" y="723.6" font-size="6.5" text-anchor="middle" class="m">+</text>
<text x="104.79" y="723.6" font-size="6.5" text-anchor="middle" class="m">+</text>
<text x="125.81" y="723.6" font-size="6.5" text-anchor="middle" class="m">+</text>
<text x="146.83" y="723.6" font-size="6.5" text-anchor="middle" class="m">+</text>
</g>
<g id="p14">
<path d="M229.18 675.97V675.65M227.28 675.8H231.08" stroke="#000" stroke-width="1.15" fill="none"/>
<rect x="223.9" y="676.27" width="10.55" height="6.93" fill="#fff" stroke="#000" stroke-width="0.6"/>
<path d="M250.02 583.5V581.62M248.12 581.77H251.92" stroke="#000" stroke-width="1.15" fill="none"/>
<rect x="244.92" y="583.8" width="10.2" height="99.4" fill="#000" stroke="#000" stroke-width="0.6"/>
<text x="0" y="0" font-size="8.7" font-weight="normal" text-anchor="middle" class="h" transform="translate(250.05 579.07) skewX(11)">#</text>
<path d="M271.22 620.93V619.36M269.32 619.51H273.12" stroke="#000" stroke-width="1.15" fill="none"/>
<rect x="265.94" y="621.23" width="10.55" height="61.97" fill="url(#h)" stroke="#222" stroke-width="0.6"/>
<text x="272.04" y="620.36" font-size="9.8" text-anchor="middle" letter-spacing="0.85" font-weight="normal" class="s">***</text>
<path d="M292.24 645.15V644.52M290.34 644.67H294.13" stroke="#000" stroke-width="1.15" fill="none"/>
<rect x="286.96" y="645.45" width="10.55" height="37.75" fill="#808080" stroke="#333" stroke-width="0.6"/>
<text x="293.06" y="644.72" font-size="9.8" text-anchor="middle" letter-spacing="0.85" font-weight="normal" class="s">***</text>
<rect x="307.98" y="660.23" width="10.55" height="22.97" fill="#808080" stroke="#333" stroke-width="0.6"/>
<text x="314.07" y="659.93" font-size="9.8" text-anchor="middle" letter-spacing="0.85" font-weight="normal" class="s">***</text>
<path d="M218.8 557.4V683.2H324.2" stroke="#000" stroke-width="1.25" fill="none"/>
<path d="M218.8 683.2h2" stroke="#000" stroke-width="0.9"/>
<text x="213.5" y="684.9" font-size="5.0" text-anchor="end" class="k">0</text>
<path d="M218.8 651.75h2" stroke="#000" stroke-width="0.9"/>
<text x="213.5" y="653.45" font-size="5.0" text-anchor="end" class="k">5</text>
<path d="M218.8 620.3h2" stroke="#000" stroke-width="0.9"/>
<text x="213.5" y="622" font-size="5.0" text-anchor="end" class="k">10</text>
<path d="M218.8 588.85h2" stroke="#000" stroke-width="0.9"/>
<text x="213.5" y="590.55" font-size="5.0" text-anchor="end" class="k">15</text>
<path d="M218.8 557.4h2" stroke="#000" stroke-width="0.9"/>
<text x="213.5" y="559.1" font-size="5.0" text-anchor="end" class="k">20</text>
<text transform="translate(196.8 619.65) rotate(-90)" font-size="7.9" text-anchor="middle" textLength="61.8" lengthAdjust="spacingAndGlyphs" class="t">Nitric Oxide (µM)</text>
<text x="220.65" y="694.05" font-size="6.2" text-anchor="end" class="t">14 (µM)</text>
<text x="178.2" y="707.15" font-size="6.2" class="t">Dexa. (100 µM)</text>
<text x="178.2" y="722.25" font-size="6.2" class="t">LPS (500</text>
<text x="178.2" y="730.05" font-size="6.2" class="t">ng/mL)</text>
<text x="229.18" y="693.05" font-size="5.8" text-anchor="middle" class="t">0</text>
<text x="250.2" y="693.05" font-size="5.8" text-anchor="middle" class="t">0</text>
<text x="271.22" y="693.05" font-size="5.8" text-anchor="middle" class="t">0</text>
<text x="292.24" y="693.05" font-size="5.8" text-anchor="middle" class="t">25</text>
<text x="313.25" y="693.05" font-size="5.8" text-anchor="middle" class="t">50</text>
<text x="229.18" y="707.3" font-size="6.5" text-anchor="middle" class="t">-</text>
<text x="250.2" y="707.3" font-size="6.5" text-anchor="middle" class="t">-</text>
<text x="271.22" y="707.3" font-size="6.5" text-anchor="middle" class="m">+</text>
<text x="292.24" y="707.3" font-size="6.5" text-anchor="middle" class="t">-</text>
<text x="313.25" y="707.3" font-size="6.5" text-anchor="middle" class="t">-</text>
<text x="229.18" y="721.6" font-size="6.5" text-anchor="middle" class="t">-</text>
<text x="250.2" y="721.6" font-size="6.5" text-anchor="middle" class="m">+</text>
<text x="271.22" y="721.6" font-size="6.5" text-anchor="middle" class="m">+</text>
<text x="292.24" y="721.6" font-size="6.5" text-anchor="middle" class="m">+</text>
<text x="313.25" y="721.6" font-size="6.5" text-anchor="middle" class="m">+</text>
</g>
<g id="p15">
<path d="M398.18 672.97V672.65M396.28 672.8H400.07" stroke="#000" stroke-width="1.15" fill="none"/>
<rect x="392.9" y="673.27" width="10.55" height="6.93" fill="#fff" stroke="#000" stroke-width="0.6"/>
<path d="M419.1 580.5V578.62M417.2 578.77H421" stroke="#000" stroke-width="1.15" fill="none"/>
<rect x="414" y="580.8" width="10.2" height="99.4" fill="#000" stroke="#000" stroke-width="0.6"/>
<text x="0" y="0" font-size="8.7" font-weight="normal" text-anchor="middle" class="h" transform="translate(420.05 575.07) skewX(11)">#</text>
<path d="M440.38 617.93V616.36M438.48 616.51H442.27" stroke="#000" stroke-width="1.15" fill="none"/>
<rect x="435.1" y="618.23" width="10.55" height="61.97" fill="url(#h)" stroke="#222" stroke-width="0.6"/>
<text x="441.19" y="617.56" font-size="9.8" text-anchor="middle" letter-spacing="0.85" font-weight="normal" class="s">***</text>
<path d="M461.48 672.02V671.71M459.58 671.86H463.38" stroke="#000" stroke-width="1.15" fill="none"/>
<rect x="456.2" y="672.32" width="10.55" height="7.88" fill="#808080" stroke="#333" stroke-width="0.6"/>
<text x="462.3" y="672.91" font-size="9.8" text-anchor="middle" letter-spacing="0.85" font-weight="normal" class="s">***</text>
<path d="M482.58 672.34V671.71M480.68 671.86H484.48" stroke="#000" stroke-width="1.15" fill="none"/>
<rect x="477.3" y="672.64" width="10.55" height="7.56" fill="#808080" stroke="#333" stroke-width="0.6"/>
<text x="483.4" y="672.71" font-size="9.8" text-anchor="middle" letter-spacing="0.85" font-weight="normal" class="s">***</text>
<path d="M387.8 554.4V680.2H493.2" stroke="#000" stroke-width="1.25" fill="none"/>
<path d="M387.8 680.2h2" stroke="#000" stroke-width="0.9"/>
<text x="382.5" y="681.9" font-size="5.0" text-anchor="end" class="k">0</text>
<path d="M387.8 648.75h2" stroke="#000" stroke-width="0.9"/>
<text x="382.5" y="650.45" font-size="5.0" text-anchor="end" class="k">5</text>
<path d="M387.8 617.3h2" stroke="#000" stroke-width="0.9"/>
<text x="382.5" y="619" font-size="5.0" text-anchor="end" class="k">10</text>
<path d="M387.8 585.85h2" stroke="#000" stroke-width="0.9"/>
<text x="382.5" y="587.55" font-size="5.0" text-anchor="end" class="k">15</text>
<path d="M387.8 554.4h2" stroke="#000" stroke-width="0.9"/>
<text x="382.5" y="556.1" font-size="5.0" text-anchor="end" class="k">20</text>
<text transform="translate(365.8 616.65) rotate(-90)" font-size="7.9" text-anchor="middle" textLength="61.8" lengthAdjust="spacingAndGlyphs" class="t">Nitric Oxide (µM)</text>
<text x="389.4" y="690.75" font-size="6.2" text-anchor="end" class="t">15 (µM)</text>
<text x="347.2" y="705.15" font-size="6.2" class="t">Dexa. (100 µM)</text>
<text x="347.2" y="718.75" font-size="6.2" class="t">LPS (500 ng/mL)</text>
<text x="398.18" y="689.75" font-size="5.8" text-anchor="middle" class="t">0</text>
<text x="419.28" y="689.75" font-size="5.8" text-anchor="middle" class="t">0</text>
<text x="440.38" y="689.75" font-size="5.8" text-anchor="middle" class="t">0</text>
<text x="461.48" y="689.75" font-size="5.8" text-anchor="middle" class="t">25</text>
<text x="482.58" y="689.75" font-size="5.8" text-anchor="middle" class="t">50</text>
<text x="398.18" y="704.4" font-size="6.5" text-anchor="middle" class="t">-</text>
<text x="419.28" y="704.4" font-size="6.5" text-anchor="middle" class="t">-</text>
<text x="440.38" y="704.4" font-size="6.5" text-anchor="middle" class="m">+</text>
<text x="461.48" y="704.4" font-size="6.5" text-anchor="middle" class="t">-</text>
<text x="482.58" y="704.4" font-size="6.5" text-anchor="middle" class="t">-</text>
<text x="398.18" y="718.5" font-size="6.5" text-anchor="middle" class="t">-</text>
<text x="419.28" y="718.5" font-size="6.5" text-anchor="middle" class="m">+</text>
<text x="440.38" y="718.5" font-size="6.5" text-anchor="middle" class="m">+</text>
<text x="461.48" y="718.5" font-size="6.5" text-anchor="middle" class="m">+</text>
<text x="482.58" y="718.5" font-size="6.5" text-anchor="middle" class="m">+</text>
</g>
<g id="p16">
<path d="M579.52 675.52V675.2M577.62 675.35H581.42" stroke="#000" stroke-width="1.15" fill="none"/>
<rect x="574.25" y="675.82" width="10.55" height="6.93" fill="#fff" stroke="#000" stroke-width="0.6"/>
<path d="M600.32 584.35V584.04M598.42 584.19H602.22" stroke="#000" stroke-width="1.15" fill="none"/>
<rect x="595.22" y="584.65" width="10.2" height="98.1" fill="#000" stroke="#000" stroke-width="0.6"/>
<text x="0" y="0" font-size="8.7" font-weight="normal" text-anchor="middle" class="h" transform="translate(601.05 580.49) skewX(11)">#</text>
<path d="M621.46 620.5V618.93M619.56 619.08H623.36" stroke="#000" stroke-width="1.15" fill="none"/>
<rect x="616.19" y="620.8" width="10.55" height="61.95" fill="url(#h)" stroke="#222" stroke-width="0.6"/>
<text x="622.28" y="620.43" font-size="9.8" text-anchor="middle" letter-spacing="0.85" font-weight="normal" class="s">***</text>
<path d="M642.43 621.76V616.1M640.53 616.25H644.33" stroke="#000" stroke-width="1.15" fill="none"/>
<rect x="637.16" y="622.06" width="10.55" height="60.69" fill="#808080" stroke="#333" stroke-width="0.6"/>
<text x="643.25" y="617.1" font-size="9.8" text-anchor="middle" letter-spacing="0.85" font-weight="normal" class="s">***</text>
<path d="M663.4 642.51V641.88M661.5 642.03H665.3" stroke="#000" stroke-width="1.15" fill="none"/>
<rect x="658.13" y="642.81" width="10.55" height="39.94" fill="#808080" stroke="#333" stroke-width="0.6"/>
<text x="664.22" y="641.88" font-size="9.8" text-anchor="middle" letter-spacing="0.85" font-weight="normal" class="s">***</text>
<path d="M569.15 557V682.75H673.65" stroke="#000" stroke-width="1.25" fill="none"/>
<path d="M569.15 682.75h2" stroke="#000" stroke-width="0.9"/>
<text x="563.85" y="684.45" font-size="5.0" text-anchor="end" class="k">0</text>
<path d="M569.15 651.31h2" stroke="#000" stroke-width="0.9"/>
<text x="563.85" y="653.01" font-size="5.0" text-anchor="end" class="k">5</text>
<path d="M569.15 619.88h2" stroke="#000" stroke-width="0.9"/>
<text x="563.85" y="621.58" font-size="5.0" text-anchor="end" class="k">10</text>
<path d="M569.15 588.44h2" stroke="#000" stroke-width="0.9"/>
<text x="563.85" y="590.14" font-size="5.0" text-anchor="end" class="k">15</text>
<path d="M569.15 557h2" stroke="#000" stroke-width="0.9"/>
<text x="563.85" y="558.7" font-size="5.0" text-anchor="end" class="k">20</text>
<text transform="translate(547.15 619.48) rotate(-90)" font-size="7.9" text-anchor="middle" textLength="61.8" lengthAdjust="spacingAndGlyphs" class="t">Nitric Oxide (µM)</text>
<text x="570.4" y="693.3" font-size="6.2" text-anchor="end" class="t">16 (µM)</text>
<text x="528.55" y="707.3" font-size="6.2" class="t">Dexa. (100 µM)</text>
<text x="528.55" y="722.8" font-size="6.2" class="t">LPS (500 ng/mL)</text>
<text x="579.52" y="693" font-size="5.8" text-anchor="middle" class="t">0</text>
<text x="600.5" y="693" font-size="5.8" text-anchor="middle" class="t">0</text>
<text x="621.46" y="693" font-size="5.8" text-anchor="middle" class="t">0</text>
<text x="642.43" y="693" font-size="5.8" text-anchor="middle" class="t">25</text>
<text x="663.4" y="693" font-size="5.8" text-anchor="middle" class="t">50</text>
<text x="579.52" y="707.05" font-size="6.5" text-anchor="middle" class="t">-</text>
<text x="600.5" y="707.05" font-size="6.5" text-anchor="middle" class="t">-</text>
<text x="621.46" y="707.05" font-size="6.5" text-anchor="middle" class="m">+</text>
<text x="642.43" y="707.05" font-size="6.5" text-anchor="middle" class="t">-</text>
<text x="663.4" y="707.05" font-size="6.5" text-anchor="middle" class="t">-</text>
<text x="579.52" y="720.55" font-size="6.5" text-anchor="middle" class="t">-</text>
<text x="600.5" y="721.05" font-size="6.5" text-anchor="middle" class="m">+</text>
<text x="621.46" y="721.05" font-size="6.5" text-anchor="middle" class="m">+</text>
<text x="642.43" y="721.05" font-size="6.5" text-anchor="middle" class="m">+</text>
<text x="663.4" y="721.05" font-size="6.5" text-anchor="middle" class="m">+</text>
</g>
<g id="p17">
<path d="M62.27 864.75V864.44M60.38 864.59H64.17" stroke="#000" stroke-width="1.15" fill="none"/>
<rect x="57" y="865.05" width="10.55" height="6.75" fill="#fff" stroke="#000" stroke-width="0.6"/>
<path d="M83.25 775.83V775.52M81.35 775.67H85.15" stroke="#000" stroke-width="1.15" fill="none"/>
<rect x="78.15" y="776.13" width="10.2" height="95.67" fill="#000" stroke="#000" stroke-width="0.6"/>
<text x="0" y="0" font-size="8.7" font-weight="normal" text-anchor="middle" class="h" transform="translate(84.05 771.97) skewX(11)">#</text>
<path d="M104.57 811.09V809.56M102.67 809.71H106.47" stroke="#000" stroke-width="1.15" fill="none"/>
<rect x="99.3" y="811.39" width="10.55" height="60.41" fill="url(#h)" stroke="#222" stroke-width="0.6"/>
<text x="105.39" y="810.76" font-size="9.8" text-anchor="middle" letter-spacing="0.85" font-weight="normal" class="s">***</text>
<path d="M125.72 861.99V858.31M123.82 858.46H127.62" stroke="#000" stroke-width="1.15" fill="none"/>
<rect x="120.45" y="862.29" width="10.55" height="9.51" fill="#808080" stroke="#333" stroke-width="0.6"/>
<text x="126.55" y="859.31" font-size="9.8" text-anchor="middle" letter-spacing="0.85" font-weight="normal" class="s">***</text>
<path d="M146.88 861.07V858.62M144.97 858.77H148.78" stroke="#000" stroke-width="1.15" fill="none"/>
<rect x="141.6" y="861.37" width="10.55" height="10.43" fill="#808080" stroke="#333" stroke-width="0.6"/>
<text x="147.69" y="859.82" font-size="9.8" text-anchor="middle" letter-spacing="0.85" font-weight="normal" class="s">***</text>
<path d="M51.9 749.15V871.8H157.5" stroke="#000" stroke-width="1.25" fill="none"/>
<path d="M51.9 871.8h2" stroke="#000" stroke-width="0.9"/>
<text x="46.6" y="873.5" font-size="5.0" text-anchor="end" class="k">0</text>
<path d="M51.9 841.14h2" stroke="#000" stroke-width="0.9"/>
<text x="46.6" y="842.84" font-size="5.0" text-anchor="end" class="k">5</text>
<path d="M51.9 810.47h2" stroke="#000" stroke-width="0.9"/>
<text x="46.6" y="812.17" font-size="5.0" text-anchor="end" class="k">10</text>
<path d="M51.9 779.81h2" stroke="#000" stroke-width="0.9"/>
<text x="46.6" y="781.51" font-size="5.0" text-anchor="end" class="k">15</text>
<path d="M51.9 749.15h2" stroke="#000" stroke-width="0.9"/>
<text x="46.6" y="750.85" font-size="5.0" text-anchor="end" class="k">20</text>
<text transform="translate(29.9 810.57) rotate(-90)" font-size="7.9" text-anchor="middle" textLength="61.8" lengthAdjust="spacingAndGlyphs" class="t">Nitric Oxide (µM)</text>
<text x="54.9" y="881.85" font-size="6.2" text-anchor="end" class="t">17 (µM)</text>
<text x="11.3" y="895.85" font-size="6.2" class="t">Dexa. (100 µM)</text>
<text x="11.3" y="910.45" font-size="6.2" class="t">LPS (500 ng/mL)</text>
<text x="62.27" y="881.75" font-size="5.8" text-anchor="middle" class="t">0</text>
<text x="83.42" y="881.75" font-size="5.8" text-anchor="middle" class="t">0</text>
<text x="104.57" y="881.75" font-size="5.8" text-anchor="middle" class="t">0</text>
<text x="125.72" y="881.75" font-size="5.8" text-anchor="middle" class="t">25</text>
<text x="146.88" y="881.75" font-size="5.8" text-anchor="middle" class="t">50</text>
<text x="62.27" y="895.6" font-size="6.5" text-anchor="middle" class="t">-</text>
<text x="83.42" y="895.6" font-size="6.5" text-anchor="middle" class="t">-</text>
<text x="104.57" y="895.6" font-size="6.5" text-anchor="middle" class="m">+</text>
<text x="125.72" y="895.6" font-size="6.5" text-anchor="middle" class="t">-</text>
<text x="146.88" y="895.6" font-size="6.5" text-anchor="middle" class="t">-</text>
<text x="62.27" y="910.2" font-size="6.5" text-anchor="middle" class="t">-</text>
<text x="83.42" y="910.2" font-size="6.5" text-anchor="middle" class="m">+</text>
<text x="104.57" y="910.2" font-size="6.5" text-anchor="middle" class="m">+</text>
<text x="125.72" y="910.2" font-size="6.5" text-anchor="middle" class="m">+</text>
<text x="146.88" y="910.2" font-size="6.5" text-anchor="middle" class="m">+</text>
</g>
<g id="p18">
<path d="M240.28 868.05V867.74M238.38 867.89H242.18" stroke="#000" stroke-width="1.15" fill="none"/>
<rect x="235" y="868.35" width="10.55" height="6.95" fill="#fff" stroke="#000" stroke-width="0.6"/>
<path d="M261.2 776.7V776.39M259.3 776.54H263.1" stroke="#000" stroke-width="1.15" fill="none"/>
<rect x="256.1" y="777" width="10.2" height="98.3" fill="#000" stroke="#000" stroke-width="0.6"/>
<text x="0" y="0" font-size="8.7" font-weight="normal" text-anchor="middle" class="h" transform="translate(262.05 772.84) skewX(11)">#</text>
<path d="M282.48 812.93V811.35M280.58 811.5H284.38" stroke="#000" stroke-width="1.15" fill="none"/>
<rect x="277.2" y="813.23" width="10.55" height="62.07" fill="url(#h)" stroke="#222" stroke-width="0.6"/>
<text x="283.3" y="812.85" font-size="9.8" text-anchor="middle" letter-spacing="0.85" font-weight="normal" class="s">***</text>
<path d="M303.57 793.4V789.3M301.68 789.45H305.47" stroke="#000" stroke-width="1.15" fill="none"/>
<rect x="298.3" y="793.7" width="10.55" height="81.6" fill="#808080" stroke="#333" stroke-width="0.6"/>
<text x="304.39" y="788.8" font-size="9.8" text-anchor="middle" letter-spacing="0.85" font-weight="normal" class="s">*</text>
<path d="M324.68 867.42V863.33M322.78 863.48H326.57" stroke="#000" stroke-width="1.15" fill="none"/>
<rect x="319.4" y="867.72" width="10.55" height="7.58" fill="#808080" stroke="#333" stroke-width="0.6"/>
<text x="325.5" y="863.33" font-size="9.8" text-anchor="middle" letter-spacing="0.85" font-weight="normal" class="s">***</text>
<path d="M229.9 749.3V875.3H335.2" stroke="#000" stroke-width="1.25" fill="none"/>
<path d="M229.9 875.3h2" stroke="#000" stroke-width="0.9"/>
<text x="224.6" y="877" font-size="5.0" text-anchor="end" class="k">0</text>
<path d="M229.9 843.8h2" stroke="#000" stroke-width="0.9"/>
<text x="224.6" y="845.5" font-size="5.0" text-anchor="end" class="k">5</text>
<path d="M229.9 812.3h2" stroke="#000" stroke-width="0.9"/>
<text x="224.6" y="814" font-size="5.0" text-anchor="end" class="k">10</text>
<path d="M229.9 780.8h2" stroke="#000" stroke-width="0.9"/>
<text x="224.6" y="782.5" font-size="5.0" text-anchor="end" class="k">15</text>
<path d="M229.9 749.3h2" stroke="#000" stroke-width="0.9"/>
<text x="224.6" y="751" font-size="5.0" text-anchor="end" class="k">20</text>
<text transform="translate(207.9 811.5) rotate(-90)" font-size="7.9" text-anchor="middle" textLength="61.8" lengthAdjust="spacingAndGlyphs" class="t">Nitric Oxide (µM)</text>
<text x="231.65" y="886.55" font-size="6.2" text-anchor="end" class="t">18 (µM)</text>
<text x="189.3" y="900.95" font-size="6.2" class="t">Dexa. (100 µM)</text>
<text x="189.3" y="914.15" font-size="6.2" class="t">LPS (500</text>
<text x="189.3" y="921.95" font-size="6.2" class="t">ng/mL)</text>
<text x="240.28" y="884.95" font-size="5.8" text-anchor="middle" class="t">0</text>
<text x="261.38" y="884.95" font-size="5.8" text-anchor="middle" class="t">0</text>
<text x="282.48" y="884.95" font-size="5.8" text-anchor="middle" class="t">0</text>
<text x="303.57" y="884.95" font-size="5.8" text-anchor="middle" class="t">25</text>
<text x="324.68" y="884.95" font-size="5.8" text-anchor="middle" class="t">50</text>
<text x="240.28" y="899.2" font-size="6.5" text-anchor="middle" class="t">-</text>
<text x="261.38" y="899.2" font-size="6.5" text-anchor="middle" class="t">-</text>
<text x="282.48" y="899.2" font-size="6.5" text-anchor="middle" class="m">+</text>
<text x="303.57" y="899.2" font-size="6.5" text-anchor="middle" class="t">-</text>
<text x="324.68" y="899.2" font-size="6.5" text-anchor="middle" class="t">-</text>
<text x="240.28" y="912.9" font-size="6.5" text-anchor="middle" class="t">-</text>
<text x="261.38" y="912.9" font-size="6.5" text-anchor="middle" class="m">+</text>
<text x="282.48" y="912.9" font-size="6.5" text-anchor="middle" class="m">+</text>
<text x="303.57" y="912.9" font-size="6.5" text-anchor="middle" class="m">+</text>
<text x="324.68" y="912.9" font-size="6.5" text-anchor="middle" class="m">+</text>
</g>
<g id="p19">
<path d="M409.27 868.05V867.74M407.38 867.89H411.17" stroke="#000" stroke-width="1.15" fill="none"/>
<rect x="404" y="868.35" width="10.55" height="6.95" fill="#fff" stroke="#000" stroke-width="0.6"/>
<path d="M430.2 776.7V776.39M428.3 776.54H432.1" stroke="#000" stroke-width="1.15" fill="none"/>
<rect x="425.1" y="777" width="10.2" height="98.3" fill="#000" stroke="#000" stroke-width="0.6"/>
<text x="0" y="0" font-size="8.7" font-weight="normal" text-anchor="middle" class="h" transform="translate(431.05 772.14) skewX(11)">#</text>
<path d="M451.47 812.93V811.35M449.57 811.5H453.37" stroke="#000" stroke-width="1.15" fill="none"/>
<rect x="446.2" y="813.23" width="10.55" height="62.07" fill="url(#h)" stroke="#222" stroke-width="0.6"/>
<text x="452.29" y="812.65" font-size="9.8" text-anchor="middle" letter-spacing="0.85" font-weight="normal" class="s">***</text>
<path d="M472.57 866.16V863.64M470.68 863.79H474.47" stroke="#000" stroke-width="1.15" fill="none"/>
<rect x="467.3" y="866.46" width="10.55" height="8.83" fill="#808080" stroke="#333" stroke-width="0.6"/>
<text x="473.39" y="864.85" font-size="9.8" text-anchor="middle" letter-spacing="0.85" font-weight="normal" class="s">***</text>
<path d="M493.67 865.85V859.55M491.77 859.7H495.57" stroke="#000" stroke-width="1.15" fill="none"/>
<rect x="488.4" y="866.15" width="10.55" height="9.15" fill="#808080" stroke="#333" stroke-width="0.6"/>
<text x="494.49" y="860.25" font-size="9.8" text-anchor="middle" letter-spacing="0.85" font-weight="normal" class="s">***</text>
<path d="M398.9 749.3V875.3H504.2" stroke="#000" stroke-width="1.25" fill="none"/>
<path d="M398.9 875.3h2" stroke="#000" stroke-width="0.9"/>
<text x="393.6" y="877" font-size="5.0" text-anchor="end" class="k">0</text>
<path d="M398.9 843.8h2" stroke="#000" stroke-width="0.9"/>
<text x="393.6" y="845.5" font-size="5.0" text-anchor="end" class="k">5</text>
<path d="M398.9 812.3h2" stroke="#000" stroke-width="0.9"/>
<text x="393.6" y="814" font-size="5.0" text-anchor="end" class="k">10</text>
<path d="M398.9 780.8h2" stroke="#000" stroke-width="0.9"/>
<text x="393.6" y="782.5" font-size="5.0" text-anchor="end" class="k">15</text>
<path d="M398.9 749.3h2" stroke="#000" stroke-width="0.9"/>
<text x="393.6" y="751" font-size="5.0" text-anchor="end" class="k">20</text>
<text transform="translate(376.9 811.5) rotate(-90)" font-size="7.9" text-anchor="middle" textLength="61.8" lengthAdjust="spacingAndGlyphs" class="t">Nitric Oxide (µM)</text>
<text x="400.65" y="886.55" font-size="6.2" text-anchor="end" class="t">19 (µM)</text>
<text x="358.3" y="901.85" font-size="6.2" class="t">Dexa. (100 µM)</text>
<text x="358.3" y="914.85" font-size="6.2" class="t">LPS (500 ng/mL)</text>
<text x="409.27" y="884.95" font-size="5.8" text-anchor="middle" class="t">0</text>
<text x="430.38" y="884.95" font-size="5.8" text-anchor="middle" class="t">0</text>
<text x="451.47" y="884.95" font-size="5.8" text-anchor="middle" class="t">0</text>
<text x="472.57" y="884.95" font-size="5.8" text-anchor="middle" class="t">25</text>
<text x="493.67" y="884.95" font-size="5.8" text-anchor="middle" class="t">50</text>
<text x="409.27" y="899.2" font-size="6.5" text-anchor="middle" class="t">-</text>
<text x="430.38" y="899.2" font-size="6.5" text-anchor="middle" class="t">-</text>
<text x="451.47" y="899.2" font-size="6.5" text-anchor="middle" class="m">+</text>
<text x="472.57" y="899.2" font-size="6.5" text-anchor="middle" class="t">-</text>
<text x="493.67" y="899.2" font-size="6.5" text-anchor="middle" class="t">-</text>
<text x="409.27" y="912.4" font-size="6.5" text-anchor="middle" class="t">-</text>
<text x="430.38" y="912.9" font-size="6.5" text-anchor="middle" class="m">+</text>
<text x="451.47" y="912.9" font-size="6.5" text-anchor="middle" class="m">+</text>
<text x="472.57" y="912.9" font-size="6.5" text-anchor="middle" class="m">+</text>
<text x="493.67" y="912.9" font-size="6.5" text-anchor="middle" class="m">+</text>
</g>
</svg>
</body></html>
